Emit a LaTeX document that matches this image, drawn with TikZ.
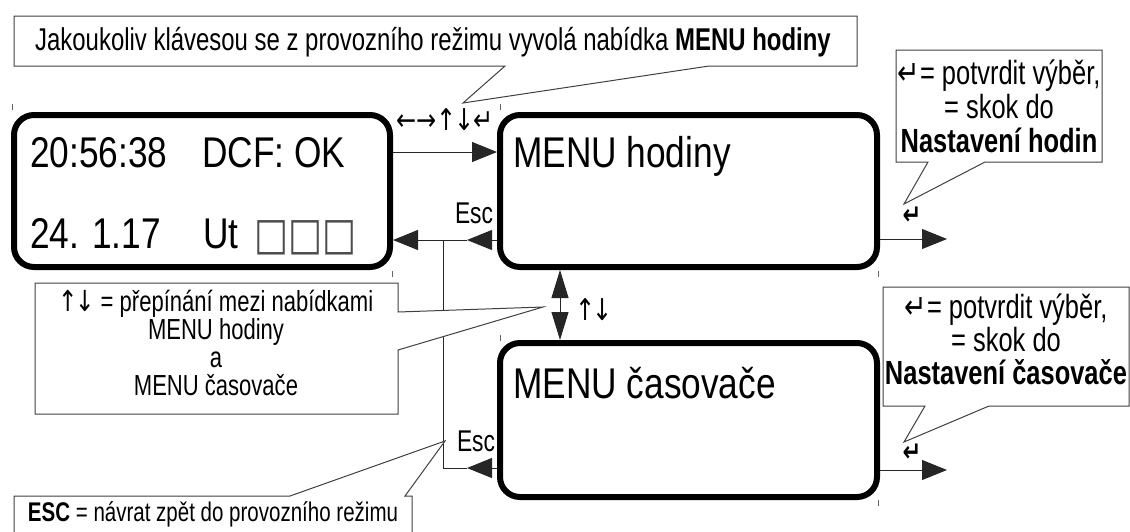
\documentclass[tikz,border=0pt]{standalone}
\usepackage{fontspec}
\setmainfont{Liberation Sans}[FakeStretch=0.82]
\newfontfamily\cf{Liberation Sans}[FakeStretch=0.76]
\newfontfamily\symf{DejaVu Sans}[FakeStretch=0.8]
\usetikzlibrary{arrows.meta}
\begin{document}
\begin{tikzpicture}[x=1pt,y=-1pt,
  dispbox/.style={draw=black, line width=6pt, rounded corners=20pt, inner sep=0pt, fill=white},
  big/.style={font=\fontsize{43}{50}\selectfont, inner sep=0pt, anchor=base west},
  ct/.style={font=\cf\fontsize{31}{34}\selectfont, inner sep=0pt, align=center},
  lbl/.style={font=\cf\fontsize{30}{30}\selectfont, inner sep=0pt},
  symlbl/.style={font=\symf\fontsize{30}{32}\selectfont, inner sep=0pt},
  enter/.style={font=\symf\bfseries\fontsize{28}{30}\selectfont, inner sep=0pt},
  conn/.style={draw=black!85, line width=1pt},
  callout/.style={draw=black!75, line width=1pt, fill=white},
  tick/.style={draw=black!60, line width=1pt},
  >={Triangle[length=25pt,width=20pt]}]
\useasboundingbox (0,0) rectangle (1130,531);

% display boxes
\node[dispbox, minimum width=376pt, minimum height=152pt] (b1) at (202,191) {};
\node[dispbox, minimum width=377pt, minimum height=152pt] (b2) at (688.5,191) {};
\node[dispbox, minimum width=377pt, minimum height=154pt] (b3) at (688.5,420) {};

% texts in boxes
\node[big] (t11) at (30,167) {20:56:38};
\node[big] (t12) at (202,167) {DCF: OK};
\node[big] (t21) at (30,248) {24. 1.17};
\node[big] (t22) at (203,248) {Ut};
\node[inner sep=0pt, anchor=base west, text=black!70, font=\symf\fontsize{45}{48}\selectfont] (t23) at (254,249) {□□□};
\node[big] (t3) at (513,167) {MENU hodiny};
\node[big] (t4) at (513,398) {MENU časovače};

% ticks
\draw[tick] (12,104) -- (12,110);
\draw[tick] (500,104) -- (500,110);
\draw[tick] (392,271) -- (392,277);
\draw[tick] (878,271) -- (878,277);
\draw[tick] (500,335) -- (500,341);
\draw[tick] (878,500) -- (878,506);

% coordinates
\coordinate (y152) at (0,152);
\coordinate (m1) at (467,240);
\coordinate (j1) at (443,240);
\coordinate (j2) at (443,468);
\coordinate (m2) at (467,468);
\coordinate (r1) at (947,239);
\coordinate (r2) at (947,470);
\coordinate (x560) at (560,0);

% connectors
\draw[conn,->] (b1.east |- y152) -- (b2.west |- y152);
\draw[conn,->] (b2.west |- m1) -- (m1);
\draw[conn,->] (m1) -- (b1.east |- m1);
\draw[conn,->] (b3.west |- m2) -- (m2);
\draw[conn] (m2) -- (j2) -- (j1);
\draw[conn,->] (b2.east |- r1) -- (r1);
\draw[conn,->] (b3.east |- r2) -- (r2);
\draw[conn,{Triangle[length=28pt,width=17pt]}-{Triangle[length=28pt,width=17pt]}] (b2.south -| x560) -- (b3.north -| x560);

% small labels
\node[symlbl] (k1) at (445,120) {←→↑\kern-3pt↓\kern-1pt↵};
\node[lbl] (esc1) at (474,213) {Esc};
\node[symlbl] (ud) at (594,310) {↑\kern-3pt↓};
\node[lbl] (esc2) at (476,441) {Esc};
\node[enter] (en1) at (912,216) {↵};
\node[enter] (en2) at (912,453) {↵};

% pointer tips
\coordinate (p1) at (463,103);
\coordinate (p2) at (904,204);
\coordinate (p3) at (543,307);
\coordinate (p4) at (904,442);
\coordinate (p5) at (445,441);

% callouts
\draw[callout] (14,16) -- (857,16) -- (857,66) -- (709,66) -- (p1) -- (505,66) -- (14,66) -- cycle;
\node[ct, font=\cf\fontsize{31.5}{34}\selectfont] (c1) at (433,42) {Jakoukoliv klávesou se z provozního režimu vyvolá nabídka \textbf{MENU hodiny}};

\draw[callout] (896,50) -- (1102,50) -- (1102,162) -- (985,162) -- (p2) -- (928,162) -- (896,162) -- cycle;
\node[ct, font=\cf\fontsize{33.5}{34}\selectfont] (c2) at (999,106) {{\symf ↵}= potvrdit výběr,\\= skok do\\\textbf{Nastavení hodin}};

\draw[callout] (35,283) -- (398,283) -- (398,312) -- (p3) -- (398,350) -- (398,414) -- (35,414) -- cycle;
\node[ct, font=\cf\fontsize{29}{28}\selectfont] (c3) at (216,343) {{\symf ↑\kern-3pt↓} = přepínání mezi nabídkami\\MENU hodiny\\a\\MENU časovače};

\draw[callout] (883,287) -- (1129,287) -- (1129,406) -- (989,406) -- (p4) -- (925,406) -- (883,406) -- cycle;
\node[ct, font=\cf\fontsize{33.5}{33}\selectfont] (c4) at (1006,339) {{\symf ↵}= potvrdit výběr,\\= skok do\\\textbf{Nastavení časovače}};

\draw[callout] (14,540) -- (14,496) -- (290,496) -- (p5) -- (405,496) -- (412,496) -- (412,540);
\node[ct, font=\cf\fontsize{27}{30}\selectfont] (c5) at (213,514) {\textbf{ESC} = návrat zpět do provozního režimu};
\end{tikzpicture}
\end{document}
